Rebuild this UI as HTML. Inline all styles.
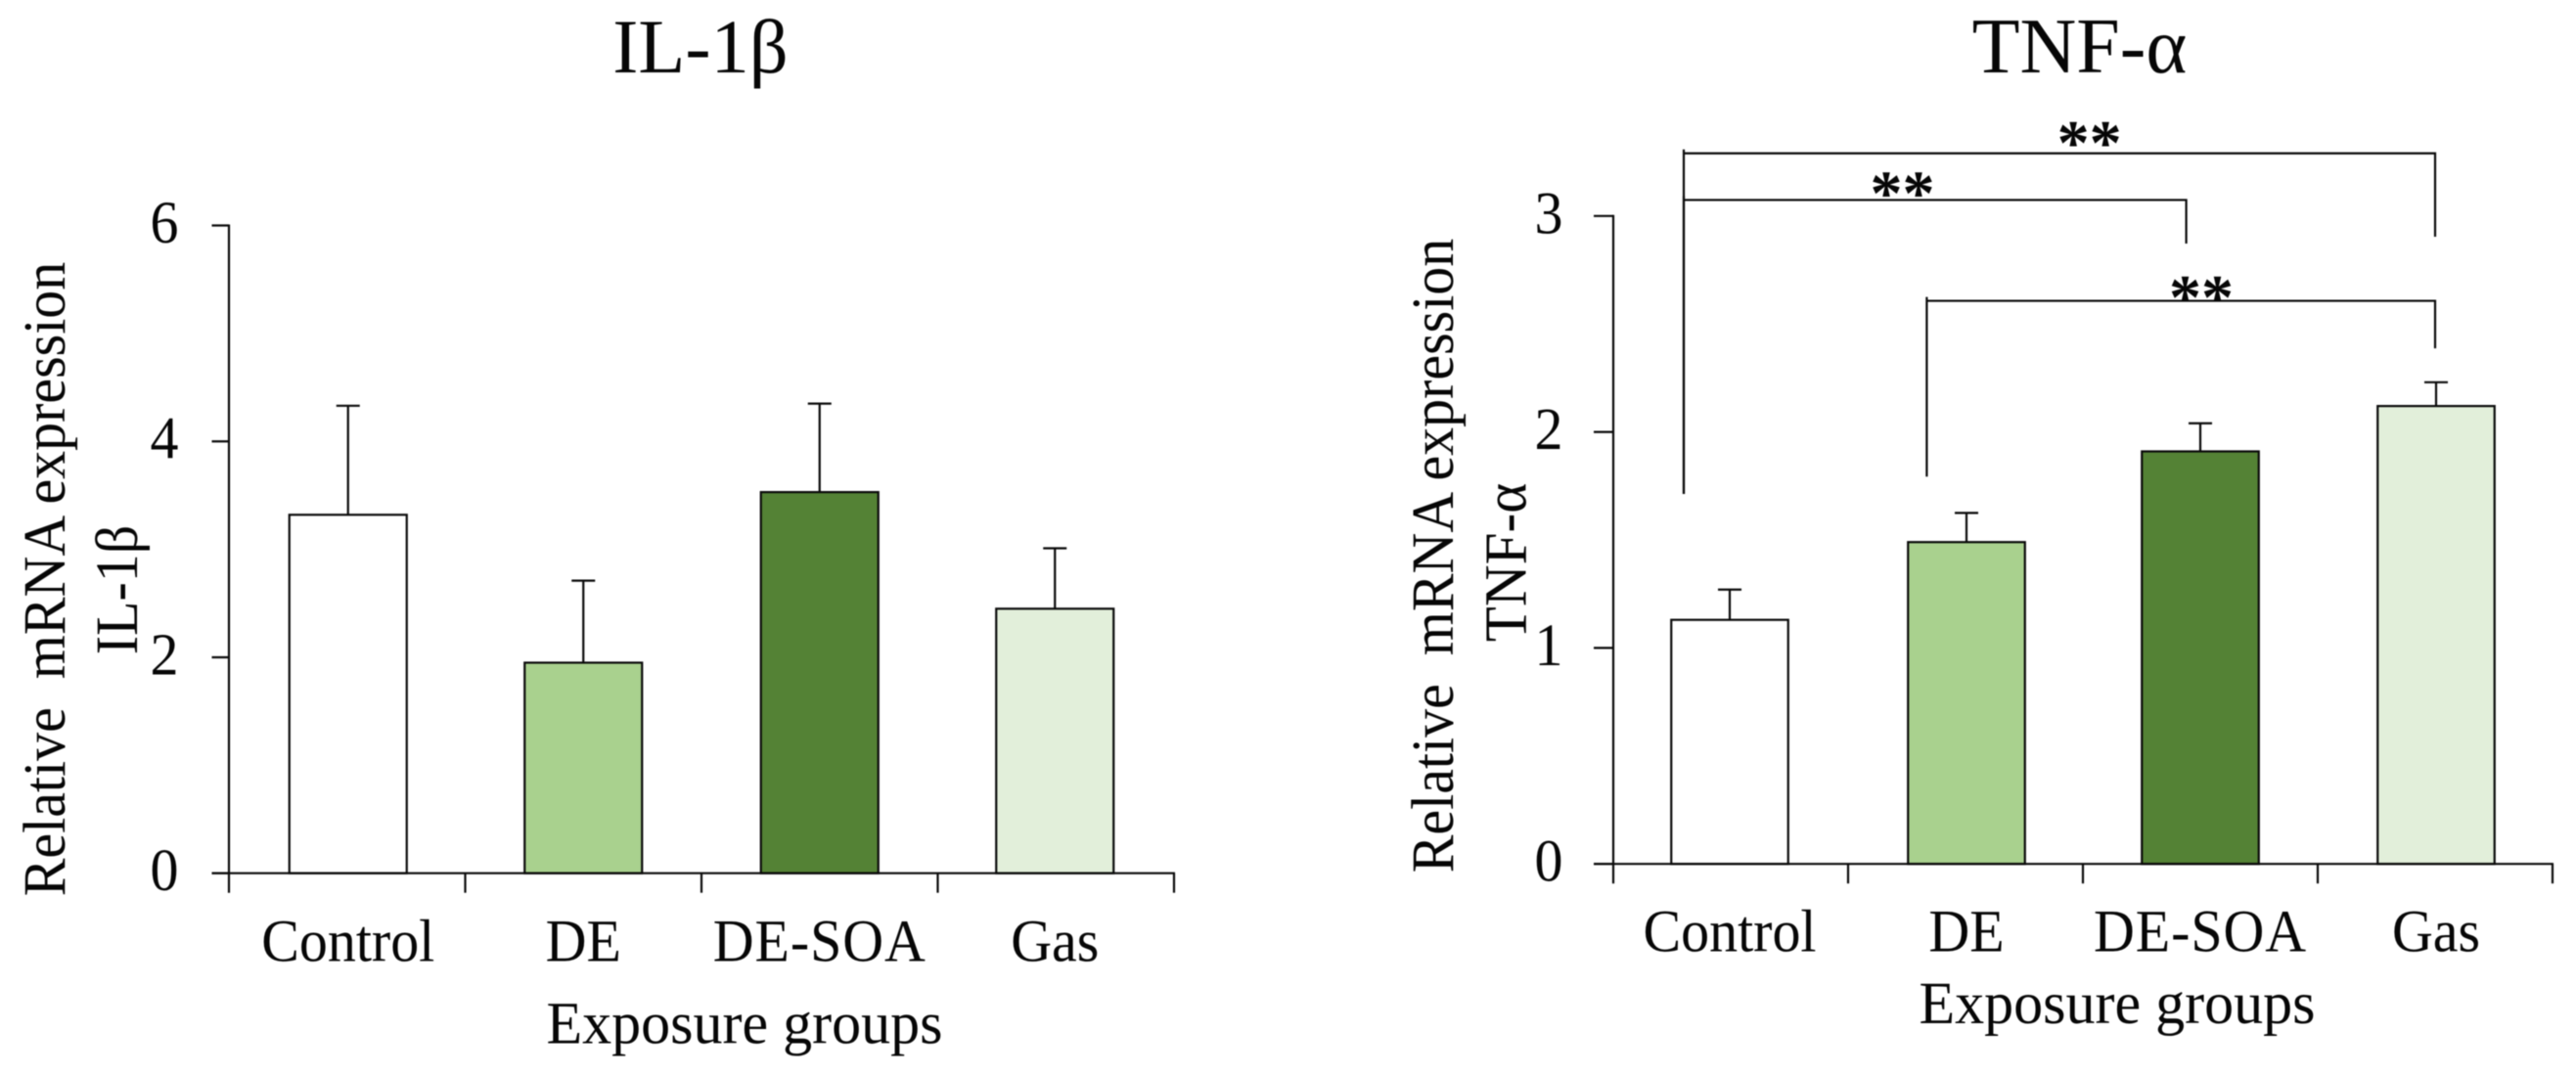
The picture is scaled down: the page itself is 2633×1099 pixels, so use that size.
<!DOCTYPE html>
<html lang="en">
<head>
<meta charset="utf-8">
<title>IL-1β and TNF-α relative mRNA expression</title>
<style>
html,body{margin:0;padding:0;background:#fff;width:2633px;height:1099px;overflow:hidden}
svg{display:block;filter:blur(0.4px)}
text{font-family:"Liberation Serif","Times New Roman",serif;fill:#060606;white-space:pre}
</style>
</head>
<body>
<svg id="figure" xmlns="http://www.w3.org/2000/svg" width="2633" height="1099" viewBox="0 0 2633 1099">
  <rect width="2633" height="1099" fill="#ffffff"/>
  <g id="chart-il1b">
    <text x="716" y="74" font-size="78.5" text-anchor="middle">IL-1β</text>
    <text transform="translate(66,592) rotate(-90) scale(.95,1)" font-size="61" text-anchor="middle">Relative  mRNA expression</text>
    <text transform="translate(140,603) rotate(-90) scale(.95,1)" font-size="61" text-anchor="middle">IL-1β</text>
    <text transform="translate(761,1066.5) scale(.984,1)" font-size="61" text-anchor="middle">Exposure groups</text>
  </g>
  <g id="chart-tnf">
    <text x="2125.5" y="74" font-size="80" text-anchor="middle">TNF-α</text>
    <text transform="translate(1485,568) rotate(-90) scale(.95,1)" font-size="61" text-anchor="middle">Relative  mRNA expression</text>
    <text transform="translate(1559.5,575) rotate(-90) scale(.97,1)" font-size="61" text-anchor="middle">TNF-α</text>
    <text transform="translate(2164,1046) scale(.984,1)" font-size="61" text-anchor="middle">Exposure groups</text>
  </g>
</svg>
<script>
// Shared data
const categories = ['Control', 'DE', 'DE-SOA', 'Gas'];
const barColors = ['#ffffff', '#a9d18e', '#548235', '#e2efda'];

// IL-1β values
const il1bValues = [3.32, 1.95, 3.53, 2.45];
const il1bErrorTops = [4.33, 2.71, 4.35, 3.01];
const il1bTicks = [0, 2, 4, 6];

// TNF-α values
const tnfValues = [1.13, 1.49, 1.91, 2.12];
const tnfErrorTops = [1.27, 1.625, 2.04, 2.23];
const tnfTicks = [0, 1, 2, 3];

// TNF-α significance brackets, in axis units (category position, y value)
const bracketFrom = [0.30, 0.30, 1.335];
const bracketTo = [3.50, 2.44, 3.50];
const bracketLevel = [3.29, 3.074, 2.607];
const bracketFromEnd = [1.713, 1.713, 1.793];
const bracketToEnd = [2.904, 2.872, 2.387];
const bracketLabels = ['**', '**', '**'];
const bracketLabelAt = [2.0275, 1.231, 2.504];
const bracketLabelLevel = [3.238, 3.007, 2.523];

const SVG_NS = 'http://www.w3.org/2000/svg';
const INK = '#0a0a0a';
const LINE = 2.2;

function make(tag, attrs, parent) {
  const el = document.createElementNS(SVG_NS, tag);
  for (const k in attrs) el.setAttribute(k, attrs[k]);
  parent.appendChild(el);
  return el;
}

function drawChart(cfg) {
  const root = document.getElementById(cfg.id);
  const yMax = cfg.ticks[cfg.ticks.length - 1];
  const xPos = p => cfg.left + (cfg.right - cfg.left) * p / categories.length;
  const yPos = v => cfg.bottom - (cfg.bottom - cfg.top) * v / yMax;

  // Bars and error bars
  categories.forEach((cat, i) => {
    const cx = xPos(i + 0.5) + cfg.barShift[i];
    const stem = make('line', {x1: cx, x2: cx, y1: yPos(cfg.values[i]), y2: yPos(cfg.errors[i]), stroke: INK, 'stroke-width': LINE}, root);
    
    
    const cap = make('line', {x1: cx - 12, x2: cx + 12, y1: yPos(cfg.errors[i]), y2: yPos(cfg.errors[i]), stroke: INK, 'stroke-width': LINE}, root);
    
    
    const bar = make('rect', {x: cx - cfg.barWidth / 2, y: yPos(cfg.values[i]), width: cfg.barWidth, height: yPos(0) - yPos(cfg.values[i]), fill: barColors[i], stroke: INK, 'stroke-width': LINE}, root);
    
    
    const label = make('text', {transform: 'translate(' + cx + ',' + cfg.labelY + ') scale(.95,1)', 'font-size': 61, 'text-anchor': 'middle', 'letter-spacing': cat.includes('-') ? 1 : 0}, root);
    label.textContent = cat;
    
    
  });

  // Axes
  const yAxis = make('line', {x1: cfg.left, x2: cfg.left, y1: cfg.top - 1, y2: cfg.bottom + 20, stroke: INK, 'stroke-width': LINE}, root);
  
  
  const xAxis = make('line', {x1: cfg.left - cfg.tickLength, x2: cfg.right + 1, y1: cfg.bottom, y2: cfg.bottom, stroke: INK, 'stroke-width': LINE}, root);
  
  

  for (let i = 1; i <= categories.length; i++) {
    const tick = make('line', {x1: xPos(i), x2: xPos(i), y1: cfg.bottom, y2: cfg.bottom + 20, stroke: INK, 'stroke-width': LINE}, root);
    
    
  }

  cfg.ticks.forEach(t => {
    const tick = make('line', {x1: cfg.left - cfg.tickLength, x2: cfg.left, y1: yPos(t), y2: yPos(t), stroke: INK, 'stroke-width': LINE}, root);
    
    
    const label = make('text', {transform: 'translate(' + (cfg.left - 51.5) + ',' + (yPos(t) + 17.5) + ') scale(.95,1)', 'font-size': 61, 'text-anchor': 'end'}, root);
    label.textContent = String(t);
    
    
  });

  return {root, xPos, yPos};
}

drawChart({
  id: 'chart-il1b', left: 234, right: 1200, top: 230.5, bottom: 892.7, tickLength: 17.5,
  ticks: il1bTicks, values: il1bValues, errors: il1bErrorTops,
  barWidth: 120, barShift: [1, 0, 0, -1], labelY: 982.7
});

const tnf = drawChart({
  id: 'chart-tnf', left: 1649, right: 2609, top: 220.8, bottom: 883.2, tickLength: 20,
  ticks: tnfTicks, values: tnfValues, errors: tnfErrorTops,
  barWidth: 119.5, barShift: [-1, 1, 0, 1], labelY: 972.7
});

bracketLevel.forEach((level, i) => {
  const x1 = tnf.xPos(bracketFrom[i]);
  const x2 = tnf.xPos(bracketTo[i]);
  const y = tnf.yPos(level);
  const d = 'M' + x1 + ' ' + tnf.yPos(bracketFromEnd[i]) + 'V' + (y - 4) + 'M' + x1 + ' ' + y + 'H' + x2 + 'V' + tnf.yPos(bracketToEnd[i]);
  const bracket = make('path', {d: d, fill: 'none', stroke: INK, 'stroke-width': LINE}, tnf.root);
  
  
  const stars = make('text', {x: tnf.xPos(bracketLabelAt[i]), y: tnf.yPos(bracketLabelLevel[i]), 'font-size': 66, 'font-weight': 'bold', 'text-anchor': 'middle'}, tnf.root);
  stars.textContent = bracketLabels[i];
  
  
});
</script>
</body>
</html>
